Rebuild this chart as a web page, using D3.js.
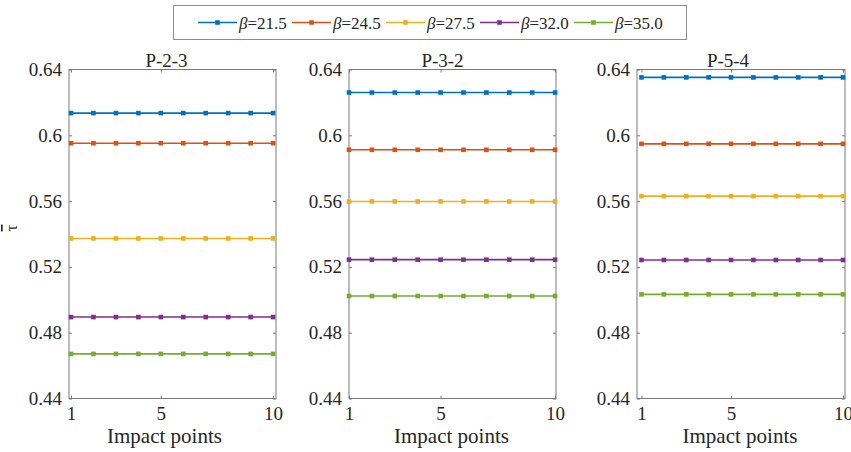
<!DOCTYPE html>
<html>
<head>
<meta charset="utf-8">
<script src="https://cdn.jsdelivr.net/npm/d3@7"></script>
<style>
  html, body { margin: 0; padding: 0; background: #fff; }
  svg { display: block; }
  svg text { font-family: "Liberation Serif", "Times New Roman", Tinos, "DejaVu Serif", serif !important; fill: #262626; }
</style>
</head>
<body>
<svg id="chart" width="851" height="452"></svg>
<script>
// Mean impact coefficient per impact point for each beta, three specimens
const panelTitles = ["P-2-3", "P-3-2", "P-5-4"];
const betaLabels = ["21.5", "24.5", "27.5", "32.0", "35.0"];
const seriesColors = ["#0072BD", "#D95319", "#EDB120", "#7E2F8E", "#77AC30"];
const impactPoints = [1, 2, 3, 4, 5, 6, 7, 8, 9, 10];
const xTickValues = [1, 5, 10];
const yTickValues = [0.44, 0.48, 0.52, 0.56, 0.6, 0.64];

const tauP23 = [
  [0.6135, 0.6135, 0.6135, 0.6135, 0.6135, 0.6135, 0.6135, 0.6135, 0.6135, 0.6135],
  [0.5952, 0.5952, 0.5952, 0.5952, 0.5952, 0.5952, 0.5952, 0.5952, 0.5952, 0.5952],
  [0.5373, 0.5373, 0.5373, 0.5373, 0.5373, 0.5373, 0.5373, 0.5373, 0.5373, 0.5373],
  [0.4895, 0.4895, 0.4895, 0.4895, 0.4895, 0.4895, 0.4895, 0.4895, 0.4895, 0.4895],
  [0.4671, 0.4671, 0.4671, 0.4671, 0.4671, 0.4671, 0.4671, 0.4671, 0.4671, 0.4671]
];
const tauP32 = [
  [0.6260, 0.6260, 0.6260, 0.6260, 0.6260, 0.6260, 0.6260, 0.6260, 0.6260, 0.6260],
  [0.5912, 0.5912, 0.5912, 0.5912, 0.5912, 0.5912, 0.5912, 0.5912, 0.5912, 0.5912],
  [0.5598, 0.5598, 0.5598, 0.5598, 0.5598, 0.5598, 0.5598, 0.5598, 0.5598, 0.5598],
  [0.5244, 0.5244, 0.5244, 0.5244, 0.5244, 0.5244, 0.5244, 0.5244, 0.5244, 0.5244],
  [0.5023, 0.5023, 0.5023, 0.5023, 0.5023, 0.5023, 0.5023, 0.5023, 0.5023, 0.5023]
];
const tauP54 = [
  [0.6352, 0.6352, 0.6352, 0.6352, 0.6352, 0.6352, 0.6352, 0.6352, 0.6352, 0.6352],
  [0.5948, 0.5948, 0.5948, 0.5948, 0.5948, 0.5948, 0.5948, 0.5948, 0.5948, 0.5948],
  [0.5630, 0.5630, 0.5630, 0.5630, 0.5630, 0.5630, 0.5630, 0.5630, 0.5630, 0.5630],
  [0.5242, 0.5242, 0.5242, 0.5242, 0.5242, 0.5242, 0.5242, 0.5242, 0.5242, 0.5242],
  [0.5033, 0.5033, 0.5033, 0.5033, 0.5033, 0.5033, 0.5033, 0.5033, 0.5033, 0.5033]
];
const panelData = [tauP23, tauP32, tauP54];

// Panel geometry
const panelBoxes = [
  { left: 69,  right: 276, xDomain: [0.91, 10.13], titleShift: -6,  labelShift: -8 },
  { left: 349, right: 556, xDomain: [1.0, 10.04],  titleShift: -10, labelShift: -1 },
  { left: 637, right: 845, xDomain: [0.8, 10.09],  titleShift: -13, labelShift: -1 }
];
const boxTop = 69.5, boxBottom = 398.5;
const axisColor = "#7a7a7a";
const serif = '"Liberation Serif", "Times New Roman", Tinos, "DejaVu Serif", serif';

const svg = d3.select("#chart");
const y = d3.scaleLinear().domain([0.44, 0.64]).range([boxBottom, boxTop]);
const yFmt = d => String(+d.toFixed(2));

panelBoxes.forEach((box, p) => {
  const x = d3.scaleLinear().domain(box.xDomain).range([box.left, box.right]);
  const g = svg.append("g");
  const w = box.right - box.left, h = boxBottom - boxTop;

  // Frame
  g.append("rect")
    .attr("x", box.left).attr("y", boxTop)
    .attr("width", w).attr("height", h)
    .attr("fill", "none").attr("stroke", axisColor).attr("stroke-width", 1);

  // Left axis (ticks inward) with labels
  const yAxisL = g.append("g").attr("transform", `translate(${box.left},0)`)
    .call(d3.axisLeft(y).tickValues(yTickValues).tickSizeInner(-3).tickSizeOuter(0).tickPadding(7).tickFormat(yFmt));
  yAxisL.attr("font-family", null);
  yAxisL.select(".domain").remove();
  yAxisL.selectAll("line").attr("stroke", axisColor);
  yAxisL.selectAll("text").attr("fill", "#262626")
    .style("font-family", serif).style("font-size", "19px");

  // Right axis ticks
  const yAxisR = g.append("g").attr("transform", `translate(${box.right},0)`)
    .call(d3.axisRight(y).tickValues(yTickValues).tickSizeInner(-3).tickSizeOuter(0).tickFormat(""));
  yAxisR.select(".domain").remove();
  yAxisR.selectAll("line").attr("stroke", axisColor);

  // Bottom axis with labels
  const xAxisB = g.append("g").attr("transform", `translate(0,${boxBottom})`)
    .call(d3.axisBottom(x).tickValues(xTickValues).tickSizeInner(-3).tickSizeOuter(0).tickPadding(8).tickFormat(d3.format("d")));
  xAxisB.attr("font-family", null);
  xAxisB.select(".domain").remove();
  xAxisB.selectAll("line").attr("stroke", axisColor);
  xAxisB.selectAll("text").attr("fill", "#262626")
    .style("font-family", serif).style("font-size", "19px");

  // Top axis ticks
  const xAxisT = g.append("g").attr("transform", `translate(0,${boxTop})`)
    .call(d3.axisTop(x).tickValues(xTickValues).tickSizeInner(-3).tickSizeOuter(0).tickFormat(""));
  xAxisT.select(".domain").remove();
  xAxisT.selectAll("line").attr("stroke", axisColor);

  // Title
  g.append("text")
    .attr("x", (box.left + box.right) / 2 + box.titleShift).attr("y", boxTop - 3)
    .attr("text-anchor", "middle").style("font-size", "19px").text(panelTitles[p]);

  // X label
  g.append("text")
    .attr("x", (box.left + box.right) / 2 + box.labelShift).attr("y", 443)
    .attr("text-anchor", "middle").style("font-size", "21px").text("Impact points");

  // Series
  const line = d3.line().x((d, i) => x(impactPoints[i])).y(d => y(d));
  panelData[p].forEach((vals, s) => {
    g.append("path").datum(vals)
      .attr("d", line).attr("fill", "none")
      .attr("stroke", seriesColors[s]).attr("stroke-width", 1.6);
    g.selectAll(null).data(vals).enter().append("rect")
      .attr("x", (d, i) => x(impactPoints[i]) - 2.3)
      .attr("y", d => y(d) - 2.3)
      .attr("width", 4.6).attr("height", 4.6)
      .attr("fill", seriesColors[s]);
  });
});

// Y-axis label: tau with overline
const yl = svg.append("text")
  .attr("transform", "translate(17,228) rotate(-90)")
  .attr("text-anchor", "middle").style("font-size", "17px");
yl.append("tspan").attr("text-decoration", "overline").text("\u03C4");

// Legend
const legend = svg.append("g");
legend.append("rect")
  .attr("x", 173.5).attr("y", 5.5).attr("width", 513).attr("height", 34)
  .attr("fill", "#fff").attr("stroke", "#8c8c8c").attr("stroke-width", 1);
const legendX = [198, 292, 386, 480, 574];
betaLabels.forEach((b, i) => {
  const lx = legendX[i], ly = 22.5;
  legend.append("line").attr("x1", lx).attr("x2", lx + 39).attr("y1", ly).attr("y2", ly)
    .attr("stroke", seriesColors[i]).attr("stroke-width", 1.6);
  legend.append("rect").attr("x", lx + 19.5 - 2.3).attr("y", ly - 2.3)
    .attr("width", 4.6).attr("height", 4.6).attr("fill", seriesColors[i]);
  const t = legend.append("text").attr("x", lx + 41).attr("y", ly + 6).style("font-size", "17px");
  t.append("tspan").attr("font-style", "italic").style("font-style", "italic").text("\u03B2");
  t.append("tspan").text("=" + b);
});
</script>
</body>
</html>
